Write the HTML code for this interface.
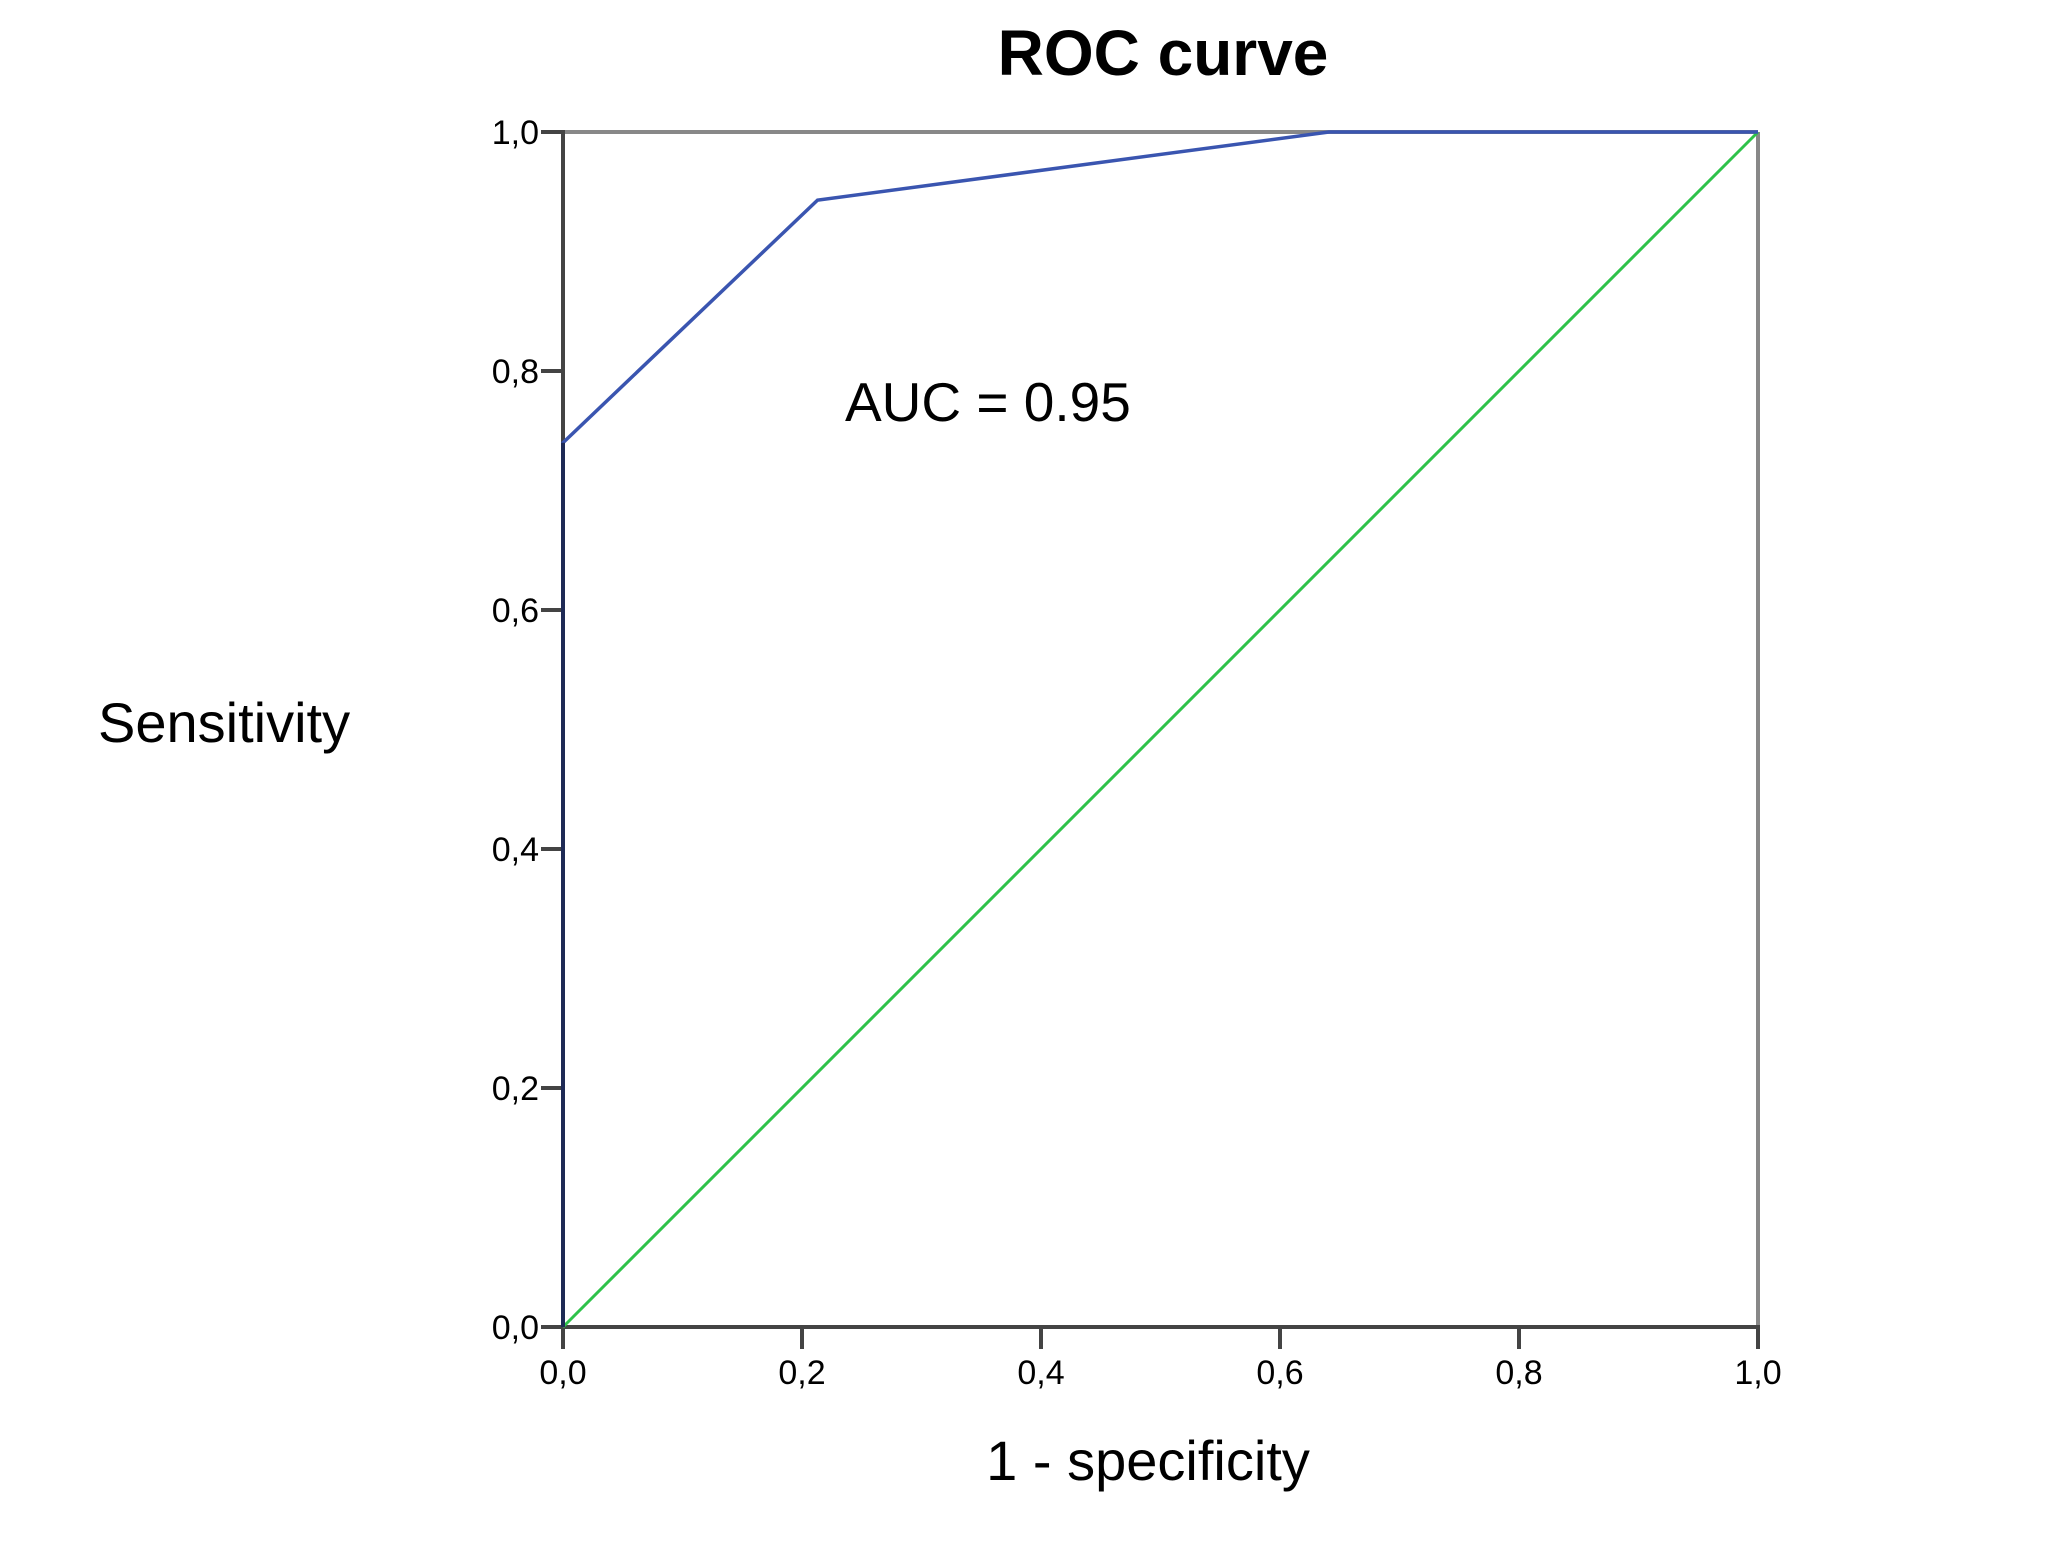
<!DOCTYPE html>
<html><head><meta charset="utf-8"><style>
body{margin:0;background:#fff;}
svg{display:block;font-family:"Liberation Sans",Arial,sans-serif;}
</style></head><body>
<svg width="2059" height="1541" viewBox="0 0 2059 1541">
<text x="1163" y="75" font-size="64" font-weight="bold" text-anchor="middle">ROC curve</text>
<text x="98" y="742" font-size="56">Sensitivity</text>
<text x="1148" y="1480" font-size="56" text-anchor="middle">1 - specificity</text>
<text x="845" y="421" font-size="55">AUC = 0.95</text>
<g id="axes"></g>
<g id="marks"></g>
</svg>
<script>
const ticks=[0,0.2,0.4,0.6,0.8,1.0];
const tickLabels=["0,0","0,2","0,4","0,6","0,8","1,0"];
const rocX=[0,0,0,0.213,0.641,1.0];
const rocY=[0,0.37,0.74,0.943,1.0,1.0];
const refX=[0,1];
const refY=[0,1];
const L=563,R=1758,T=132,B=1327;
const sx=v=>L+v*(R-L), sy=v=>B-v*(B-T);
const NS="http://www.w3.org/2000/svg";
const axes=document.getElementById('axes'), marks=document.getElementById('marks');
function mk(tag,attrs,parent){const e=document.createElementNS(NS,tag);for(const k in attrs)e.setAttribute(k,attrs[k]);parent.appendChild(e);return e;}
let e;
e=mk('line',{x1:L,y1:T,x2:R,y2:T,stroke:'#888',"stroke-width":4},axes);


e=mk('line',{x1:R,y1:T,x2:R,y2:B,stroke:'#888',"stroke-width":4},axes);


e=mk('line',{x1:L,y1:T-2,x2:L,y2:B,stroke:'#444',"stroke-width":4},axes);


e=mk('line',{x1:L,y1:B,x2:R+2,y2:B,stroke:'#444',"stroke-width":4},axes);


ticks.forEach((t,i)=>{
  let a=mk('line',{x1:L-22,y1:sy(t),x2:L,y2:sy(t),stroke:'#444',"stroke-width":4},axes);
  
  
  let b=mk('text',{x:L-24,y:sy(t)+12,"font-size":34,"text-anchor":"end"},axes);b.textContent=tickLabels[i];
  
  
  let c=mk('line',{x1:sx(t),y1:B,x2:sx(t),y2:B+22,stroke:'#444',"stroke-width":4},axes);
  
  
  let d=mk('text',{x:sx(t),y:B+57,"font-size":34,"text-anchor":"middle"},axes);d.textContent=tickLabels[i];
  
  
});
e=mk('polyline',{points:refX.map((x,i)=>sx(x)+','+sy(refY[i])).join(' '),fill:'none',stroke:'#2ec24a',"stroke-width":3},marks);


e=mk('polyline',{points:rocX.map((x,i)=>sx(x)+','+sy(rocY[i])).join(' '),fill:'none',stroke:'#3a55b0',"stroke-width":3.5},marks);


e=mk('line',{x1:sx(rocX[0]),y1:sy(rocY[0]),x2:sx(rocX[2]),y2:sy(rocY[2]),stroke:'#1e2a55',"stroke-width":4},marks);


</script>
</body></html>
